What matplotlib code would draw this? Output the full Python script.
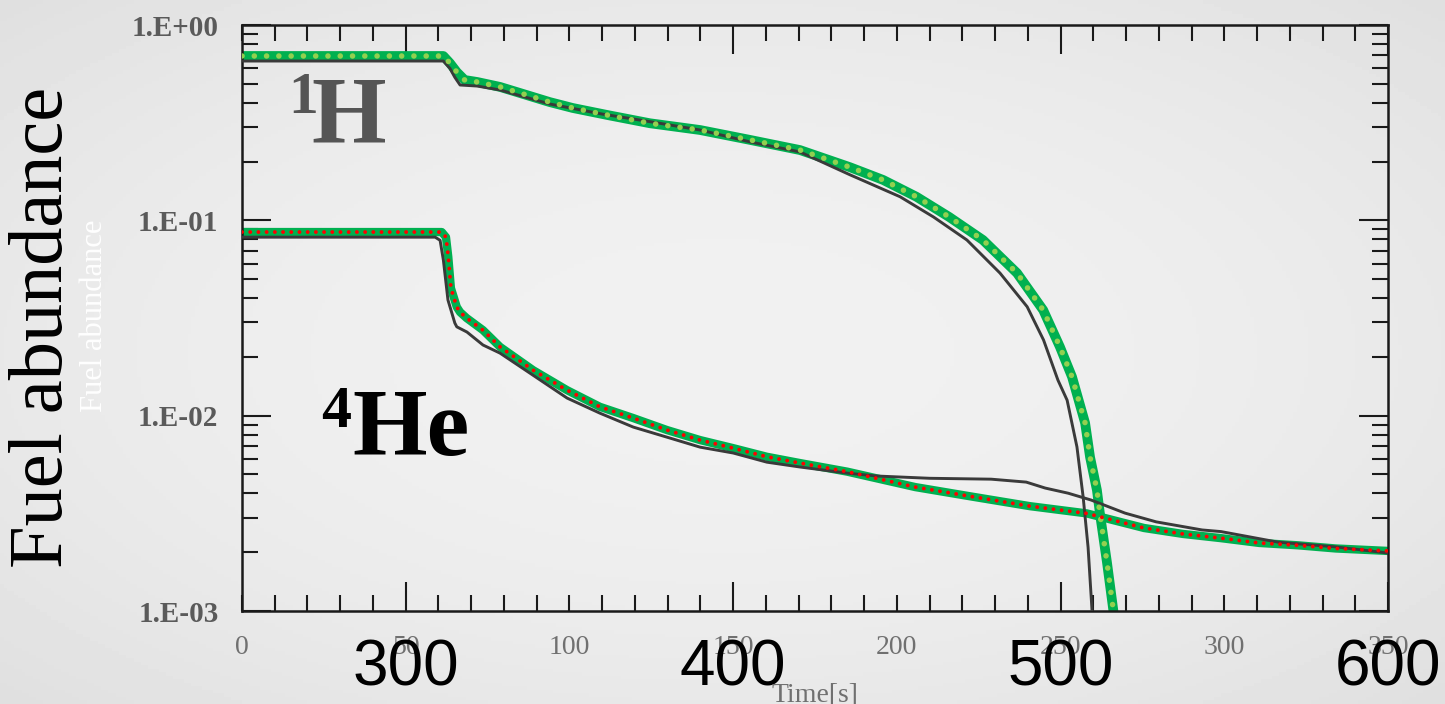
import numpy as np
import matplotlib.pyplot as plt
from matplotlib.ticker import LogLocator, MultipleLocator, NullFormatter

# simulation (thick green) and reference (thin dark) fuel abundances
t_h_sim = [0, 61.5, 63.5, 65.6, 68, 71.8, 78.8, 94, 101, 112, 124.6, 139.9, 155.2,
           170.4, 185.7, 195.8, 206, 216, 226.3, 236.7, 244.7, 249.8, 253.5, 257.5,
           259, 261.1, 262, 264.2, 266.5]
h_sim = [0.694, 0.694, 0.638, 0.574, 0.523, 0.511, 0.482, 0.403, 0.376, 0.345, 0.314,
         0.290, 0.258, 0.229, 0.187, 0.161, 0.132, 0.104, 0.0793, 0.0537, 0.0347, 0.0225,
         0.0158, 0.00916, 0.00614, 0.00416, 0.00317, 0.00176, 0.0009]

t_h_ref = [0, 61.5, 63.5, 65, 66.6, 71.8, 78.8, 94, 110, 124.6, 139.9, 155.2, 170.4,
           185.7, 201, 211.2, 221.4, 231.5, 239.8, 244.8, 249.2, 252, 255, 256.9, 258.4,
           259.6, 260]
h_ref = [0.654, 0.654, 0.60, 0.54, 0.493, 0.487, 0.465, 0.394, 0.35, 0.32, 0.290, 0.252,
         0.224, 0.171, 0.132, 0.104, 0.0793, 0.0537, 0.0361, 0.0244, 0.0152, 0.0120,
         0.00692, 0.00383, 0.00212, 0.00101, 0.0009]

t_he_sim = [0, 61, 62.3, 63, 63.8, 65.6, 66.6, 68.6, 73.6, 78.8, 88.9, 99.3, 109.3,
            119.5, 129.8, 139.9, 150, 160.3, 170.4, 184.8, 205.6, 223, 240.7, 258,
            275.5, 287.4, 299, 310.7, 322.4, 334, 350]
he_sim = [0.0871, 0.0871, 0.082, 0.065, 0.045, 0.036, 0.0339, 0.0316, 0.0274, 0.0225,
          0.0171, 0.0135, 0.0111, 0.00972, 0.00844, 0.0075, 0.00682, 0.00616, 0.00572,
          0.00517, 0.00431, 0.00385, 0.00344, 0.00316, 0.00266, 0.00248, 0.00236,
          0.00223, 0.00217, 0.00209, 0.00203]

t_he_ref = [0, 59, 60.5, 61.5, 62.9, 65, 65.6, 68.7, 73.6, 78.8, 88.9, 99.3, 109.3,
            119.5, 129.8, 139.9, 150, 160.3, 170.4, 184.8, 193.8, 210, 228.8, 239.5,
            245.3, 252.3, 259.3, 269.7, 279.2, 293.2, 299, 316.5, 334, 350]
he_ref = [0.082, 0.082, 0.079, 0.0626, 0.0391, 0.0298, 0.0285, 0.0268, 0.023, 0.0209,
          0.0161, 0.0123, 0.0103, 0.00874, 0.00776, 0.0069, 0.00644, 0.00578, 0.00546,
          0.00508, 0.00491, 0.00478, 0.00473, 0.00457, 0.00426, 0.00401, 0.0037,
          0.00317, 0.00286, 0.0026, 0.00255, 0.00225, 0.00213, 0.00198]

small_ticks = [0, 50, 100, 150, 200, 250, 300, 350]
big_ticks = [50, 150, 250, 350]
big_labels = ['300', '400', '500', '600']
y_ticks = [1e-3, 1e-2, 1e-1, 1]
y_labels = ['1.E-03', '1.E-02', '1.E-01', '1.E+00']

W, H = 1445, 704


def px(x, y):
    return x / W, 1 - y / H


fig = plt.figure(figsize=(W / 100, H / 100), dpi=100)

# soft paper-like background
bg = fig.add_axes([0, 0, 1, 1])
yy, xx = np.mgrid[-1:1:200j, -1:1:400j]
shade = 0.945 - 0.035 * (xx ** 2 + yy ** 2)
bg.imshow(shade, cmap='gray', vmin=0, vmax=1, aspect='auto', extent=[0, 1, 0, 1])
bg.axis('off')

ax = fig.add_axes([242 / W, 1 - 611 / H, (1388 - 242) / W, (611 - 25) / H])
ax.set_facecolor('none')
ax.set_yscale('log')
ax.set_xlim(0, 350)
ax.set_ylim(1e-3, 1)

ax.plot(t_h_sim, h_sim, color='#00b050', lw=7, zorder=2)
ax.plot(t_he_sim, he_sim, color='#00b050', lw=6, zorder=2)
ax.plot(t_h_ref, h_ref, color='#3a3a3a', lw=2.1, zorder=3)
ax.plot(t_he_ref, he_ref, color='#3a3a3a', lw=2.1, zorder=3)
ax.plot(t_h_sim, h_sim, color='#92d050', lw=4.0, ls=(0, (0.01, 2.2)),
        dash_capstyle='round', zorder=4)
ax.plot(t_he_sim, he_sim, color='#ff0000', lw=2.8, ls=(0, (0.01, 2.1)),
        dash_capstyle='round', zorder=4)

for s in ax.spines.values():
    s.set_linewidth(1.8)
    s.set_color('#1a1a1a')

ax.set_xticks(big_ticks, labels=big_labels)
ax.xaxis.set_minor_locator(MultipleLocator(10))
ax.set_yticks(y_ticks, labels=y_labels)
ax.yaxis.set_minor_locator(LogLocator(base=10, subs=np.arange(2, 10)))
ax.yaxis.set_minor_formatter(NullFormatter())
ax.tick_params(which='both', direction='in', top=True, right=True, color='#1a1a1a')
ax.tick_params(which='major', length=21, width=1.5)
ax.tick_params(which='minor', length=11.5, width=1.5)
ax.tick_params(axis='x', which='major', pad=20, labelsize=46, labelcolor='black')
ax.tick_params(axis='y', which='major', pad=17, labelsize=21, labelcolor='#5a5a5a')
for lbl in ax.get_xticklabels():
    lbl.set_fontfamily('Liberation Sans')
for lbl in ax.get_yticklabels():
    lbl.set_fontfamily('Liberation Serif')
    lbl.set_fontweight('bold')

# overlaid small grey time labels
for v in small_ticks:
    ax.text(v, -37 / 586, str(v), transform=ax.get_xaxis_transform(), ha='center',
            va='center', fontsize=20, color='#707070', family='Liberation Serif', zorder=1)

fig.text(*px(815, 695), 'Time[s]', ha='center', va='center', fontsize=20,
         color='#707070', family='Liberation Serif')
fig.text(*px(44, 327), 'Fuel abundance', rotation=90, ha='center', va='center',
         fontsize=55, color='black', family='Liberation Serif')
fig.text(*px(95, 316), 'Fuel abundance', rotation=90, ha='center', va='center',
         fontsize=22, color='white', family='Liberation Serif')

# species labels
fig.text(*px(288, 113), '1', ha='left', va='baseline', fontsize=43, fontweight='bold',
         color='#555555', family='Liberation Serif')
fig.text(*px(311, 142), 'H', ha='left', va='baseline', fontsize=69, fontweight='bold',
         color='#555555', family='Liberation Serif')
fig.text(*px(321, 427), '4', ha='left', va='baseline', fontsize=43, fontweight='bold',
         color='black', family='Liberation Serif')
fig.text(*px(352, 455), 'He', ha='left', va='baseline', fontsize=69, fontweight='bold',
         color='black', family='Liberation Serif')

fig.savefig('out.png', dpi=100)
